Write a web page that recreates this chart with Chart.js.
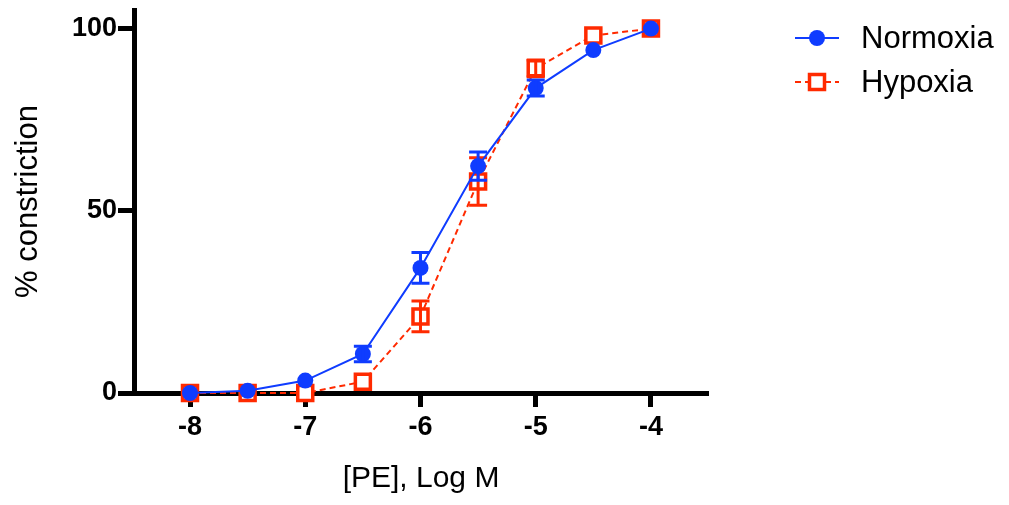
<!DOCTYPE html>
<html>
<head>
<meta charset="utf-8">
<script src="https://cdn.jsdelivr.net/npm/chart.js@4/dist/chart.umd.min.js"></script>
<style>
  html, body { margin: 0; padding: 0; background: #fff; }
  #wrap { width: 1009px; height: 505px; position: relative; }
</style>
</head>
<body>
<div id="wrap"><canvas id="c"></canvas></div>
<script>
// ---- data ----
const logDose = [-8, -7.5, -7, -6.5, -6, -5.5, -5, -4.5, -4];
const normoxia = [0, 0.6, 3.4, 10.7, 34.3, 62.2, 83.6, 94.0, 99.9];
const normoxiaSem = [0, 0, 0, 2.1, 4.2, 3.9, 2.2, 0, 0];
const hypoxia = [0, 0, 0, 3.1, 21.0, 58.0, 89.0, 98.0, 99.9];
const hypoxiaSem = [0, 0, 0, 0, 4.2, 6.5, 2.3, 0, 0];
const xTickValues = [-8, -7, -6, -5, -4];
const yTickValues = [0, 50, 100];
const seriesNames = ['Normoxia', 'Hypoxia'];

const BLUE = '#0f3cff';
const RED = '#ff2a00';
const FONT = "'Liberation Sans', Arial, Helvetica, sans-serif";

const errors = [normoxiaSem, hypoxiaSem];

const errorBarPlugin = {
  id: 'errorBars',
  afterDatasetDraw(chart, args) {
    const i = args.index;
    const ds = chart.data.datasets[i];
    const sem = errors[i];
    const xs = chart.scales.x, ys = chart.scales.y;
    const ctx = chart.ctx;
    ctx.save();
    ctx.strokeStyle = ds.borderColor;
    ctx.lineWidth = 3;
    ctx.setLineDash([]);
    ds.data.forEach((p, k) => {
      const e = sem[k];
      if (!e) return;
      const px = xs.getPixelForValue(p.x);
      const top = ys.getPixelForValue(p.y + e);
      const bot = ys.getPixelForValue(p.y - e);
      ctx.beginPath();
      ctx.moveTo(px, top); ctx.lineTo(px, bot);
      ctx.moveTo(px - 9, top); ctx.lineTo(px + 9, top);
      ctx.moveTo(px - 9, bot); ctx.lineTo(px + 9, bot);
      ctx.stroke();
    });
    ctx.restore();
  }
};

const legendPlugin = {
  id: 'customLegend',
  afterDraw(chart) {
    const ctx = chart.ctx;
    const rows = [
      { name: seriesNames[0], color: BLUE, dash: [], style: 'circle', y: 38 },
      { name: seriesNames[1], color: RED, dash: [6, 4], style: 'rect', y: 82 }
    ];
    ctx.save();
    rows.forEach(r => {
      ctx.strokeStyle = r.color;
      ctx.lineWidth = 2;
      ctx.setLineDash(r.dash);
      ctx.beginPath();
      ctx.moveTo(795, r.y); ctx.lineTo(839, r.y);
      ctx.stroke();
      ctx.setLineDash([]);
      if (r.style === 'circle') {
        ctx.fillStyle = r.color;
        ctx.beginPath();
        ctx.arc(817, r.y, 8, 0, Math.PI * 2);
        ctx.fill();
      } else {
        ctx.fillStyle = '#fff';
        ctx.lineWidth = 3.5;
        ctx.fillRect(817 - 7.5, r.y - 7.5, 15, 15);
        ctx.strokeRect(817 - 7.5, r.y - 7.5, 15, 15);
      }
      ctx.fillStyle = '#000';
      ctx.font = "31px " + FONT;
      ctx.textBaseline = 'middle';
      ctx.textAlign = 'left';
      ctx.fillText(r.name, 861, r.y + 1);
    });
    ctx.restore();
  }
};

new Chart(document.getElementById('c'), {
  type: 'line',
  data: {
    datasets: [
      {
        label: seriesNames[0],
        data: logDose.map((x, i) => ({ x, y: normoxia[i] })),
        borderColor: BLUE,
        backgroundColor: BLUE,
        borderWidth: 2,
        pointStyle: 'circle',
        pointRadius: 8,
        pointBorderWidth: 0,
        pointBackgroundColor: BLUE,
        tension: 0,
        clip: false
      },
      {
        label: seriesNames[1],
        data: logDose.map((x, i) => ({ x, y: hypoxia[i] })),
        borderColor: RED,
        backgroundColor: '#fff',
        borderWidth: 2,
        borderDash: [6, 4],
        pointStyle: 'rect',
        pointRadius: 10.6,
        pointBorderWidth: 3.5,
        pointBorderColor: RED,
        pointBackgroundColor: '#fff',
        tension: 0,
        clip: false
      }
    ]
  },
  options: {
    responsive: true,
    maintainAspectRatio: false,
    animation: false,
    layout: { autoPadding: false, padding: { top: 10, right: 301, left: 0, bottom: 0 } },
    plugins: { legend: { display: false }, tooltip: { enabled: false } },
    scales: {
      x: {
        type: 'linear',
        min: -8.486,
        max: -3.505,
        afterBuildTicks: s => { s.ticks = xTickValues.map(v => ({ value: v })); },
        afterFit: s => { s.height = 112; },
        border: { display: true, color: '#000', width: 5 },
        grid: { drawOnChartArea: false, drawTicks: true, tickLength: 14, tickWidth: 5, tickColor: '#000' },
        ticks: { color: '#000', padding: 4, font: { family: FONT, size: 27, weight: 'bold' }, callback: v => String(v) },
        title: { display: true, text: '[PE], Log M', color: '#000', font: { family: FONT, size: 30 }, padding: { top: 0, bottom: 8 } }
      },
      y: {
        type: 'linear',
        min: 0,
        max: 105,
        afterBuildTicks: s => { s.ticks = yTickValues.map(v => ({ value: v })); },
        afterFit: s => { s.width = 134; },
        border: { display: true, color: '#000', width: 5 },
        grid: { drawOnChartArea: false, drawTicks: true, tickLength: 16, tickWidth: 5, tickColor: '#000' },
        ticks: { color: '#000', padding: 1, font: { family: FONT, size: 27, weight: 'bold', lineHeight: 0.1 }, callback: v => String(v) },
        title: { display: true, text: '% constriction', color: '#000', font: { family: FONT, size: 31 }, padding: { top: 10, bottom: 0 } }
      }
    }
  },
  plugins: [errorBarPlugin, legendPlugin]
});
</script>
</body>
</html>
